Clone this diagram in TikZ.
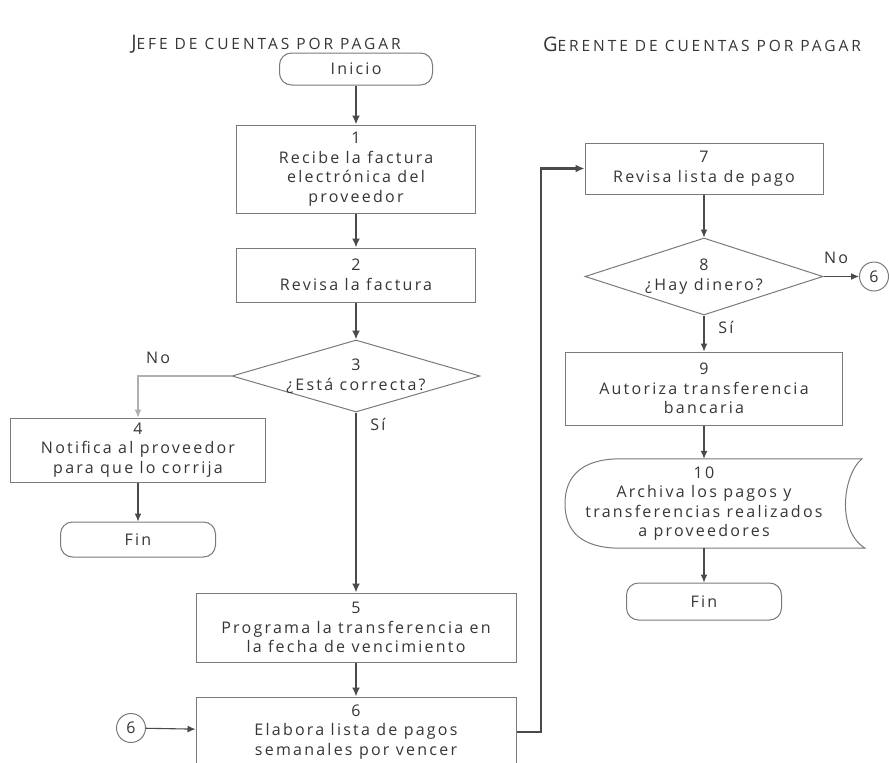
\documentclass[tikz,border=0pt]{standalone}
\usepackage{fontspec}
\setmainfont{Open Sans}[LetterSpace=14]
\usetikzlibrary{shapes.geometric,arrows.meta,calc}

\definecolor{ink}{HTML}{363636}
\definecolor{edge}{HTML}{7A7A7A}
\definecolor{flow}{HTML}{4A4A4A}

% lane headings in small capitals
\newcommand{\lanehead}[2]{{\fontsize{20}{20}\selectfont\addfontfeatures{LetterSpace=4}#1}{\fontsize{15.5}{15.5}\selectfont\addfontfeatures{LetterSpace=19}#2}}

\tikzset{
  bodytext/.style={font=\fontsize{16}{19.5}\selectfont, text=ink, align=center, inner sep=0pt},
  procbox/.style={bodytext, draw=edge, line width=1pt},
  termbox/.style={bodytext, draw=edge, line width=1pt, rounded corners=12pt},
  decbox/.style={diamond, draw=edge, line width=1pt, inner sep=0pt},
  connbox/.style={circle, draw=edge, line width=1pt, inner sep=0pt, minimum size=29pt, bodytext},
  thickflow/.style={draw=flow, line width=2.4pt, -{Latex[length=9pt,width=8pt]}},
  thinflow/.style={draw=flow, line width=1.1pt, -{Latex[length=8pt,width=7pt]}},
  lbl/.style={bodytext}
}

\begin{document}
\begin{tikzpicture}[x=1pt,y=-1pt]
\useasboundingbox (0,0) rectangle (889,763);
\clip (0,0) rectangle (889,763);
\fill[white] (0,0) rectangle (889,763);

% headings
\node[text=ink, inner sep=0] (h1) at (266,44) {\lanehead{J}{EFE DE CUENTAS POR PAGAR}};
\node[text=ink, inner sep=0] (h2) at (702,44) {\lanehead{G}{ERENTE DE CUENTAS POR PAGAR}};

% left lane
\node[termbox, minimum width=153pt, minimum height=32pt] (ini) at (356,69) {Inicio};
\node[procbox, minimum width=239pt, minimum height=88pt] (b1) at (356,169) {1\\Recibe la factura\\electrónica del\\proveedor};
\node[procbox, minimum width=239pt, minimum height=54pt] (b2) at (356,275) {2\\Revisa la factura};
\node[decbox, minimum width=248pt, minimum height=72pt] (d3) at (356,376) {};
\node[lbl] (t3) at (d3) {3\\¿Está correcta?};
\node[procbox, minimum width=255pt, minimum height=64pt] (b4) at (138,450) {4\\Notifica al proveedor\\para que lo corrija};
\node[termbox, minimum width=155pt, minimum height=35pt] (fin1) at (138,539.5) {Fin};
\node[procbox, minimum width=320pt, minimum height=69pt] (b5) at (356,627.5) {5\\Programa la transferencia en\\la fecha de vencimiento};
\node[procbox, minimum width=320pt, minimum height=70pt] (b6) at (356,732) {6\\Elabora lista de pagos\\semanales por vencer};
\node[connbox] (c6a) at (131,728) {6};

% right lane
\node[procbox, minimum width=238pt, minimum height=51pt] (b7) at (704,168.5) {7\\Revisa lista de pago};
\node[decbox, minimum width=238pt, minimum height=77pt] (d8) at (704,276.5) {};
\node[lbl] (t8) at (d8) {8\\¿Hay dinero?};
\node[connbox] (c6b) at (874,276.5) {6};
\node[procbox, minimum width=277pt, minimum height=73pt] (b9) at (704,388.5) {9\\Autoriza transferencia\\bancaria};
\node[bodytext, minimum height=89pt] (s10) at (704,503.5) {10\\Archiva los pagos y\\transferencias realizados\\a proveedores};
\node[termbox, minimum width=155pt, minimum height=37pt] (fin2) at (704,601.5) {Fin};

% stored-data outline around step 10
\draw[edge, line width=1pt]
  (s10.north -| 620,0) -- (s10.north -| 862,0)
  .. controls (843,474) and (836,530) .. (s10.south -| 865,0)
  -- (s10.south -| 620,0)
  .. controls (582,548) and (565,532) .. (565,503.5)
  .. controls (565,476) and (582,459) .. (s10.north -| 620,0) -- cycle;

% branch labels
\node[lbl] (no3) at (158,358) {No};
\node[lbl] (si3) at (378,424) {Sí};
\node[lbl] (no8) at (836,258) {No};
\node[lbl] (si8) at (726,327) {Sí};

% flow in the left lane
\draw[thickflow] (ini) -- (b1);
\draw[thickflow] (b1) -- (b2);
\draw[thickflow] (b2) -- (d3);
\draw[thickflow] (d3) -- (b5);
\draw[thickflow] (b5) -- (b6);
\draw[thinflow, draw=edge!60] (d3.west) -| (b4.north);
\draw[thinflow] (b4) -- (fin1);
\draw[thinflow] (c6a) -- (b6);

% hand-off to the right lane
\coordinate (jog) at (541,0);
\draw[thickflow] (b6.east) -- (b6.east -| jog) |- (b7.west);

% flow in the right lane
\draw[thinflow] (b7) -- (d8);
\draw[thinflow] (d8) -- (b9);
\draw[thinflow] (d8.east) -- (c6b);
\draw[thinflow] (b9) -- (s10);
\draw[thinflow] (s10) -- (fin2);
\end{tikzpicture}
\end{document}
